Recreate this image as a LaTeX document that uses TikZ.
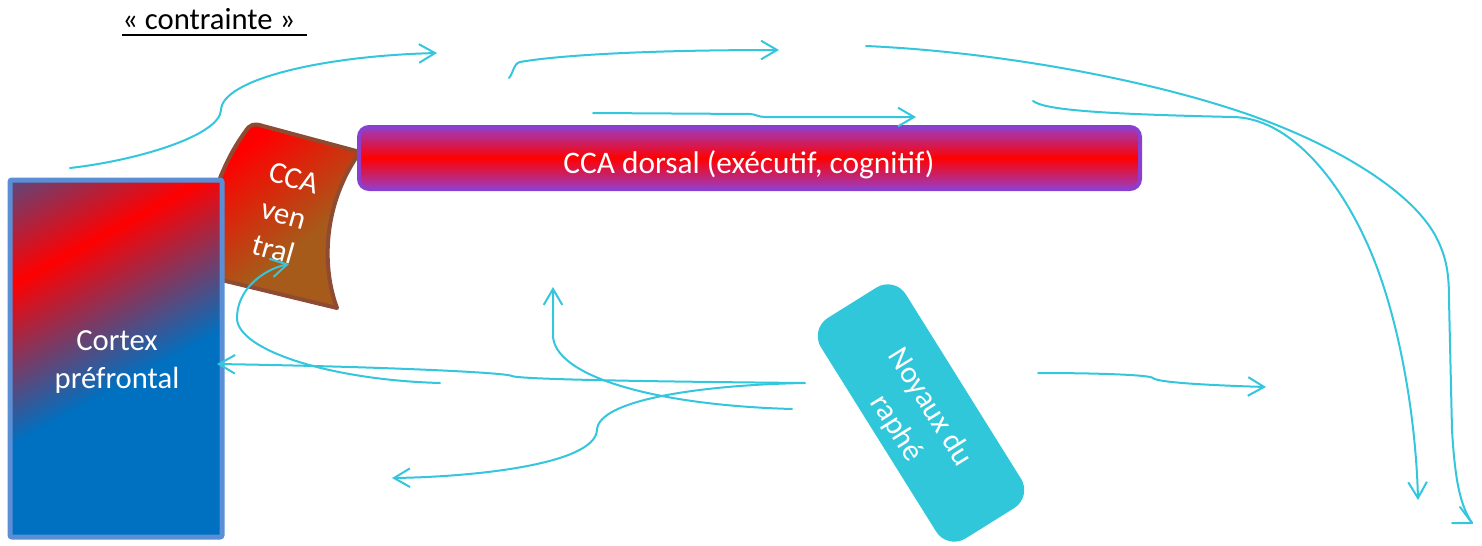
\documentclass[tikz,border=0pt]{standalone}
\usepackage{fontspec}
\setmainfont{Carlito}
\usetikzlibrary{arrows.meta}
\definecolor{arrcol}{HTML}{34C6DC}
\definecolor{cblue}{HTML}{0070C0}
\definecolor{ctop}{HTML}{1A63AE}
\definecolor{cborder}{HTML}{5B8FD5}
\definecolor{vbrown}{HTML}{A65B1A}
\definecolor{vborder}{HTML}{8F4B32}
\definecolor{dpurple}{HTML}{9A3CC2}
\definecolor{dborder}{HTML}{8B3FCF}
\definecolor{raphecol}{HTML}{31C7DB}
\newcommand\bigtxt{\fontsize{23}{28.5}\selectfont}
\begin{document}
\begin{tikzpicture}[x=0.75pt,y=-0.75pt,
  arr/.style={draw=arrcol,line width=1.5pt,line cap=round,line join=round},
  tip/.style={-{Straight Barb[length=12pt,width=14pt]}},
  wtxt/.style={text=white,font=\bigtxt,inner sep=0pt},
  btxt/.style={text=black,font=\bigtxt,inner sep=0pt}]
\useasboundingbox (0,0) rectangle (1482,546);

% ---- CCA ventral shape ----
\begin{scope}
  \clip (205,276) -- (337,308) .. controls (322,268) and (322,205) .. (360,152)
        -- (263,126) .. controls (254,123) and (250,124) .. (245,132)
        .. controls (232,150) and (222,170) .. (212,200) -- cycle;
  \begin{scope}[transform canvas={rotate around={-53:(253,127)}}]
    \fill[red] (-400,-600) rectangle (266,800);
    \shade[left color=red,right color=vbrown] (265,-600) rectangle (375,800);
    \fill[vbrown] (374,-600) rectangle (900,800);
  \end{scope}
\end{scope}
\draw[vborder,line width=3pt,line join=round]
      (205,276) -- (337,308) .. controls (322,268) and (322,205) .. (360,152)
        -- (263,126) .. controls (254,123) and (250,124) .. (245,132)
        .. controls (232,150) and (222,170) .. (212,200) -- cycle;

% ---- Cortex prefrontal ----
\begin{scope}
  \clip[rounded corners=1.5pt] (10,180) rectangle (222,537);
  \begin{scope}[transform canvas={rotate around={-61.5:(20,280)}}]
    \fill[ctop] (-700,-900) rectangle (-109,1300);
    \shade[left color=ctop,right color=red] (-110,-900) rectangle (20.5,1300);
    \shade[left color=red,right color=cblue] (19.5,-900) rectangle (160.5,1300);
    \fill[cblue] (160,-900) rectangle (900,1300);
  \end{scope}
\end{scope}
\draw[cborder,line width=3.75pt,rounded corners=1.5pt] (10,180) rectangle (222,537);
\node[wtxt,align=center] (cortex) at (117,362) {Cortex\\préfrontal};

% ---- CCA dorsal ----
\shade[top color=dpurple,bottom color=dpurple,middle color=red,
       draw=dborder,line width=3pt,rounded corners=7.5pt] (359,127) rectangle (1140,189);
\node[wtxt,anchor=base,font=\fontsize{23.5}{28.5}\selectfont] (dorsal) at (749,173) {CCA dorsal (exécutif, cognitif)};

% ---- ventral text ----
\node[wtxt,align=center,rotate=-16,font=\fontsize{23}{27.75}\selectfont] (ventral) at (284,214) {CCA\\ven\\tral};

% ---- Noyaux du raphe ----
\node[fill=raphecol,rounded corners=16pt,minimum width=195pt,minimum height=75pt,
      inner sep=0pt,rotate=-58] (raphe) at (921,413) {};
\node[wtxt,align=center,rotate=-58,font=\fontsize{23}{30}\selectfont] (rapheT) at (913,418) {Noyaux du\\raphé};

% ---- title ----
\node[btxt,anchor=base west] (ctr) at (122,29) {«\ contrainte\ »};
\coordinate (ulA) at (122,35);
\coordinate (ulB) at (307,35);
\draw[black,line width=1.5pt] (ulA) -- (ulB);

% ---- arrow end points ----
\coordinate (a1s) at (70,168);   \coordinate (a1m) at (221,110);  \coordinate (a1e) at (437,53);
\coordinate (a2s) at (509,78);   \coordinate (a2m) at (520,62);   \coordinate (a2e) at (779,50);
\coordinate (a3s) at (593,113);  \coordinate (a3e) at (916,117);
\coordinate (a4s) at (866,46);   \coordinate (a4e) at (1472,523);
\coordinate (a4w1) at (1460,507); \coordinate (a4w2) at (1452,523);
\coordinate (a5s) at (1033,101); \coordinate (a5e) at (1418,500);
\coordinate (a6s) at (1038,373); \coordinate (a6e) at (1266,387);
\coordinate (a7s) at (805,383);  \coordinate (a7e) at (217,364);
\coordinate (a8s) at (440,383);  \coordinate (a8e) at (289,264);
\coordinate (a9s) at (792,409);  \coordinate (a9e) at (553,287);
\coordinate (a10s) at (804,383); \coordinate (a10e) at (392,478);

% ---- arrows ----
\draw[arr,tip] (a1s) .. controls (140,160) and (220,135) .. (a1m)
      .. controls (222,80) and (320,56) .. (a1e);
\draw[arr,tip] (a2s) .. controls (514,72) and (513,64) .. (a2m)
      .. controls (560,55) and (650,50) .. (a2e);
\draw[arr,tip] (a3s) -- (750,114) .. controls (755,114) and (758,117) .. (765,117) -- (a3e);
\draw[arr] (a4s) .. controls (1000,52) and (1150,80) .. (1250,115)
      .. controls (1335,145) and (1410,190) .. (1435,235)
      .. controls (1447,257) and (1449,275) .. (1449,300) -- (1452,430)
      .. controls (1455,480) and (1460,505) .. (a4e);
\draw[arr] (a4w1) -- (a4e) -- (a4w2);
\draw[arr,tip] (a5s) .. controls (1045,110) and (1100,114) .. (1233,117)
      .. controls (1290,118) and (1340,180) .. (1370,250)
      .. controls (1400,320) and (1416,420) .. (a5e);
\draw[arr,tip] (a6s) .. controls (1100,373) and (1150,375) .. (1153,378)
      .. controls (1156,382) and (1200,385) .. (a6e);
\draw[arr,tip] (a7s) .. controls (700,382) and (520,380) .. (512,376)
      .. controls (508,373) and (400,367) .. (a7e);
\draw[arr,tip] (a8s) .. controls (330,380) and (237,350) .. (237,318)
      .. controls (237,290) and (262,270) .. (a8e);
\draw[arr,tip] (a9s) .. controls (650,405) and (553,375) .. (553,335) -- (a9e);
\draw[arr,tip] (a10s) .. controls (700,385) and (598,400) .. (597,430)
      .. controls (595,465) and (470,477) .. (a10e);
\end{tikzpicture}
\end{document}
